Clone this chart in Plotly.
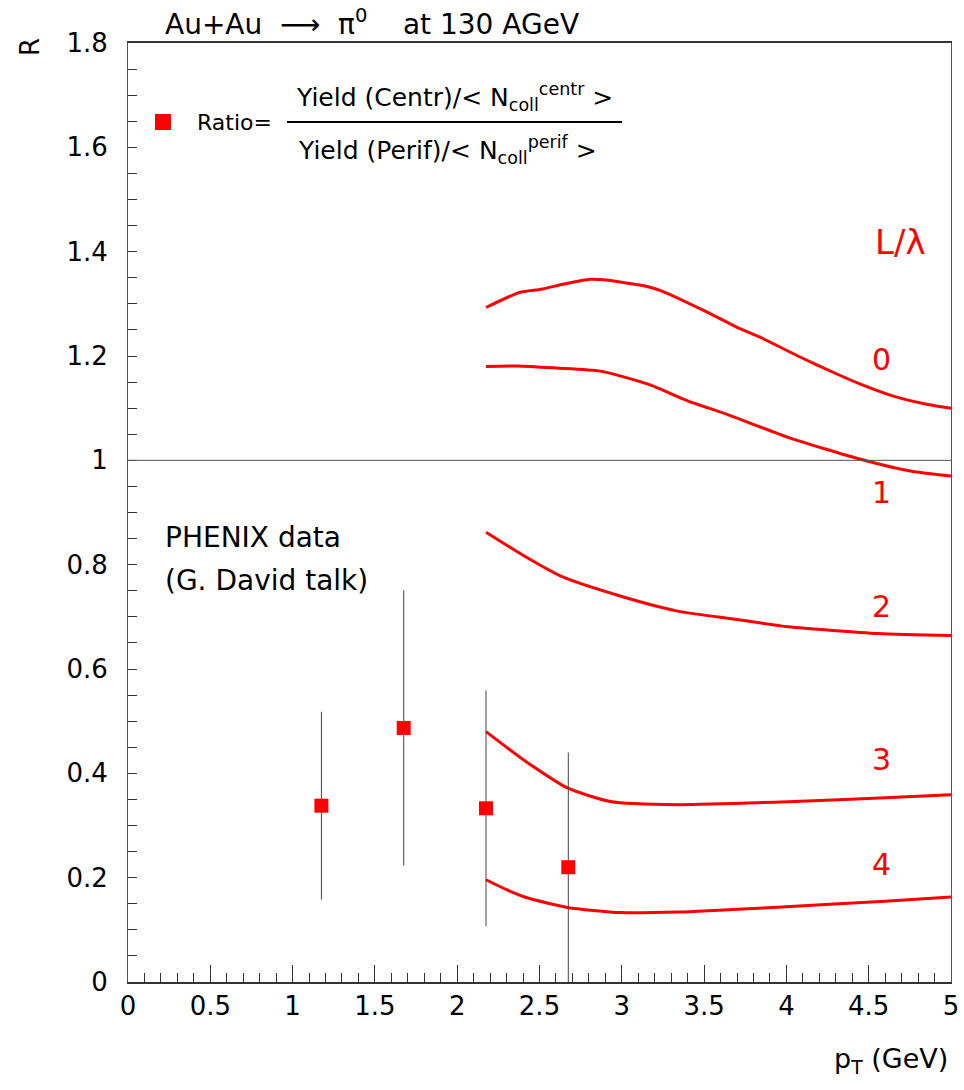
import plotly.graph_objects as go

# ---- data ----
pt_data = [1.175, 1.675, 2.175, 2.675]
r_data = [0.338, 0.487, 0.333, 0.220]
r_err = [0.18, 0.264, 0.226, 0.22]

curve_labels = ["0", "1", "2", "3", "4"]
x_c0 = [2.175, 2.38, 2.51, 2.65, 2.81, 2.89, 3.11, 3.24, 3.50, 3.70, 3.84, 4.07, 4.31, 4.45, 4.65, 4.86, 5.0]
y_c0 = [1.293, 1.322, 1.328, 1.338, 1.347, 1.346, 1.336, 1.325, 1.287, 1.255, 1.236, 1.200, 1.165, 1.146, 1.123, 1.107, 1.100]
x_c1 = [2.175, 2.37, 2.60, 2.87, 3.16, 3.40, 3.64, 4.01, 4.45, 4.76, 5.0]
y_c1 = [1.180, 1.181, 1.177, 1.171, 1.146, 1.114, 1.088, 1.044, 1.002, 0.979, 0.970]
x_c2 = [2.175, 2.40, 2.63, 2.99, 3.34, 3.70, 4.01, 4.56, 5.0]
y_c2 = [0.862, 0.818, 0.778, 0.740, 0.711, 0.695, 0.681, 0.668, 0.664]
x_c3 = [2.175, 2.30, 2.43, 2.67, 2.93, 3.34, 4.05, 4.60, 5.0]
y_c3 = [0.480, 0.450, 0.420, 0.372, 0.346, 0.340, 0.346, 0.353, 0.359]
x_c4 = [2.175, 2.30, 2.43, 2.67, 2.99, 3.34, 4.05, 4.60, 5.0]
y_c4 = [0.196, 0.177, 0.161, 0.143, 0.133, 0.134, 0.145, 0.155, 0.163]
curves_x = [x_c0, x_c1, x_c2, x_c3, x_c4]
curves_y = [y_c0, y_c1, y_c2, y_c3, y_c4]
label_pos_y = [1.194, 0.939, 0.72, 0.426, 0.225]

FONT = "DejaVu Sans"
W, H = 964, 1090
L, R, T, B = 128, 13, 43, 108
PW, PH = W - L - R, H - T - B


def px(x):
    return (x - L) / PW


def py(y):
    return (H - B - y) / PH


fig = go.Figure()
for xs, ys in zip(curves_x, curves_y):
    fig.add_trace(go.Scatter(x=xs, y=ys, mode="lines",
                             line=dict(color="#ff0000", width=3, shape="spline", smoothing=0.6),
                             showlegend=False, hoverinfo="skip"))

fig.add_trace(go.Scatter(
    x=pt_data, y=r_data, mode="markers",
    marker=dict(symbol="square", size=14, color="#ff0000"),
    error_y=dict(type="data", array=r_err, visible=True, color="#444444", thickness=1, width=0),
    showlegend=False))

shapes = [
    dict(type="line", xref="x", yref="y", x0=0, x1=5, y0=1, y1=1, line=dict(color="#555555", width=1)),
    dict(type="rect", xref="paper", yref="paper", x0=px(155), x1=px(171), y0=py(130), y1=py(114),
         fillcolor="#ff0000", line=dict(width=0)),
    dict(type="line", xref="paper", yref="paper", x0=px(287), x1=px(622), y0=py(122), y1=py(122),
         line=dict(color="black", width=2)),
]


def txt(x, y, text, size, color="black", xanchor="center", ref="paper", angle=0):
    if ref == "paper":
        return dict(x=px(x), y=py(y), xref="paper", yref="paper", text=text, showarrow=False,
                    xanchor=xanchor, yanchor="middle", textangle=angle,
                    font=dict(family=FONT, size=size, color=color))
    return dict(x=x, y=y, xref="x", yref="y", text=text, showarrow=False,
                xanchor=xanchor, yanchor="middle", textangle=angle,
                font=dict(family=FONT, size=size, color=color))


ann = []
for lab, yv in zip(curve_labels, label_pos_y):
    ann.append(txt(4.58, yv, lab, 30, "#ff0000", ref="data"))
ann.append(txt(4.695, 1.418, "L/λ", 34, "#ff0000", ref="data"))
ann.append(txt(163, 537, "PHENIX data", 28, xanchor="left"))
ann.append(txt(163, 580, "(G. David talk)", 28, xanchor="left"))
ann.append(txt(163, 22, "Au+Au  ⟶  π<sup>0</sup>    at 130 AGeV", 28, xanchor="left"))
ann.append(txt(30, 47, "R", 26, angle=-90))
ann.append(txt(950, 1060, "p<sub>T</sub> (GeV)", 27, xanchor="right"))
ann.append(txt(195, 122, "Ratio=", 22, xanchor="left"))
ann.append(txt(454, 97, "Yield (Centr)/< N<sub>coll</sub><sup>centr</sup> >", 25))
ann.append(txt(447, 150, "Yield (Perif)/< N<sub>coll</sub><sup>perif</sup> >", 25))

fig.update_layout(
    width=W, height=H, margin=dict(l=L, r=R, t=T, b=B, autoexpand=False),
    plot_bgcolor="white", paper_bgcolor="white",
    shapes=shapes, annotations=ann,
    xaxis=dict(range=[0, 5], dtick=0.5, tick0=0, ticks="inside", ticklen=17, tickcolor="#333333",
               showgrid=False, zeroline=False, showline=True, linecolor="#333333", linewidth=2, mirror=True,
               automargin=False, tickfont=dict(family=FONT, size=26, color="black"),
               minor=dict(dtick=0.1, ticks="inside", ticklen=9, tickcolor="#333333", showgrid=False)),
    yaxis=dict(range=[0, 1.8], dtick=0.2, tick0=0, ticks="inside", ticklen=9, tickcolor="#333333",
               showgrid=False, zeroline=False, showline=True, linecolor="#555555", linewidth=1, mirror=True,
               automargin=False, tickfont=dict(family=FONT, size=26, color="black"), ticklabelstandoff=14,
               minor=dict(dtick=0.05, ticks="inside", ticklen=9, tickcolor="#333333", showgrid=False)),
)

fig.write_html("out.html")
